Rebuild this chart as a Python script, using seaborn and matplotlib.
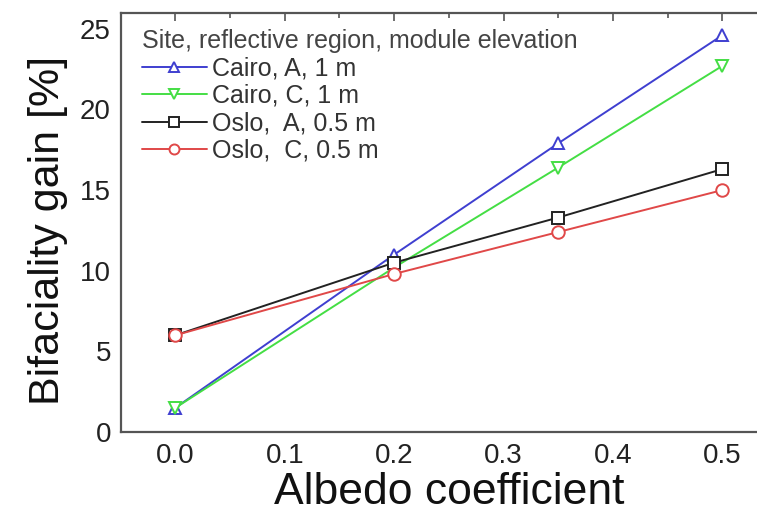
import matplotlib
matplotlib.use("Agg")
import matplotlib.pyplot as plt
import seaborn as sns
import pandas as pd
from matplotlib.ticker import MultipleLocator

albedo = [0.0, 0.2, 0.35, 0.5]
cairo_a = [1.5, 11.0, 17.9, 24.6]
cairo_c = [1.5, 10.2, 16.4, 22.7]
oslo_a = [6.0, 10.5, 13.3, 16.3]
oslo_c = [6.0, 9.8, 12.4, 15.0]
labels = ["Cairo, A, 1 m", "Cairo, C, 1 m", "Oslo,  A, 0.5 m", "Oslo,  C, 0.5 m"]
legend_title = "Site, reflective region, module elevation"
x_label = "Albedo coefficient"
y_label = "Bifaciality gain [%]"

series = [cairo_a, cairo_c, oslo_a, oslo_c]
colors = ["#3f3fd0", "#44de44", "#222222", "#e04848"]
markers = ["^", "v", "s", "o"]

sns.set_theme(style="white")
plt.rcParams["font.family"] = ["Liberation Sans", "DejaVu Sans"]

W, H = 757, 515
fig = plt.figure(figsize=(W / 100, H / 100), dpi=100)
left, right, bottom, top = 120.7, 777.0, 432.0, 12.7
ax = fig.add_axes([left / W, 1 - bottom / H, (right - left) / W, (bottom - top) / H])

for vals, lab, c, m in zip(series, labels, colors, markers):
    df = pd.DataFrame({"albedo": albedo, "gain": vals})
    sns.lineplot(data=df, x="albedo", y="gain", ax=ax, color=c, marker=m,
                 markersize=9, markerfacecolor="white", markeredgecolor=c,
                 markeredgewidth=1.4, linewidth=1.4, label=lab)

ax.set_xlim(-0.05, 0.55)
ax.set_ylim(0, 26)
ax.xaxis.set_major_locator(MultipleLocator(0.1))
ax.xaxis.set_minor_locator(MultipleLocator(0.05))
ax.yaxis.set_major_locator(MultipleLocator(5))
ax.yaxis.set_minor_locator(MultipleLocator(2.5))
ax.xaxis.set_major_formatter(matplotlib.ticker.FormatStrFormatter("%.1f"))

for s in ax.spines.values():
    s.set_color("#555555")
    s.set_linewidth(1.6)
ax.tick_params(which="both", direction="in", top=True, right=True,
               color="#555555", width=1.2)
ax.tick_params(which="major", length=6, labelsize=20, labelcolor="#222222")
ax.tick_params(axis="x", which="major", pad=8)
ax.tick_params(axis="y", which="major", pad=7)
ax.tick_params(which="minor", length=3.5)

ax.set_xlabel(x_label, fontsize=32, color="#111111", labelpad=2)
ax.set_ylabel(y_label, fontsize=31, color="#111111")
ax.yaxis.set_label_coords(-0.08, 0.48)

leg = ax.legend(title=legend_title, loc="upper left", frameon=False,
                fontsize=18, title_fontsize=18, alignment="left",
                handlelength=2.6, handletextpad=0.2, labelspacing=0.14,
                borderaxespad=0.0, bbox_to_anchor=(0.017, 0.985), markerscale=0.8)
for t in leg.get_texts():
    t.set_color("#333333")
leg.get_title().set_color("#444444")

fig.savefig("out.png", dpi=100)
